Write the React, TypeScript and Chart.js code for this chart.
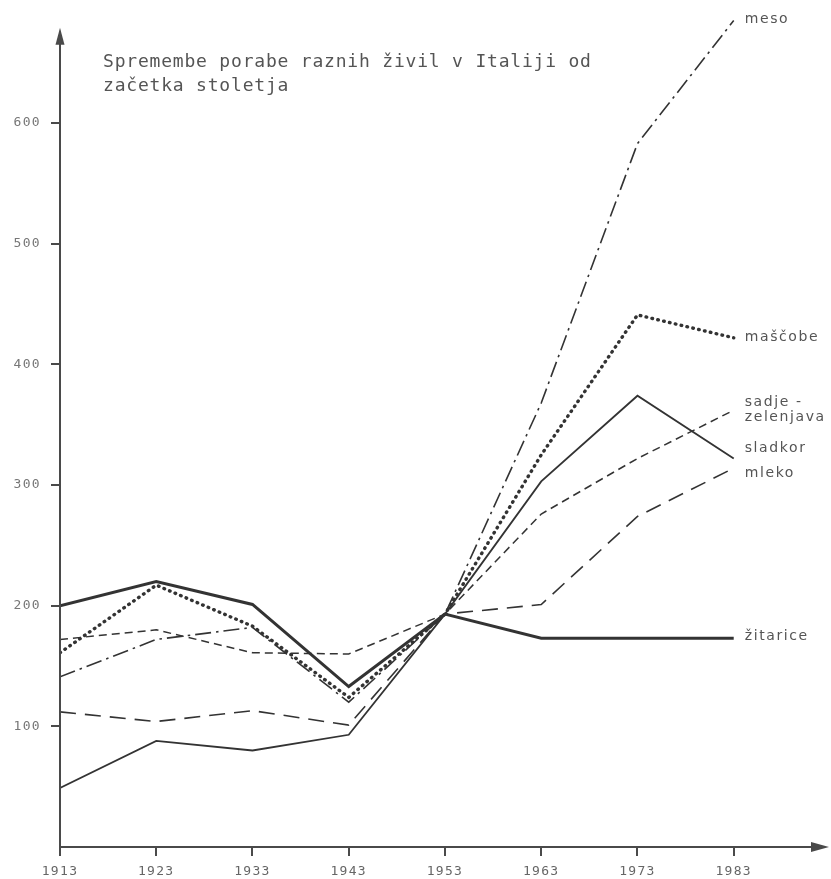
import React, { useEffect, useRef } from "react";
import { Chart, registerables } from "chart.js";

Chart.register(...registerables);

const years = [1913, 1923, 1933, 1943, 1953, 1963, 1973, 1983];
const yTickValues = [100, 200, 300, 400, 500, 600];

const zitarice = [200, 220, 201, 133, 193, 173, 173, 173];
const sladkor = [49, 88, 80, 93, 193, 303, 374, 322];
const mascobe = [161, 217, 183, 124, 193, 325, 441, 422];
const meso = [141, 172, 182, 120, 193, 368, 583, 685];
const sadje = [172, 180, 161, 160, 193, 276, 322, 362];
const mleko = [112, 104, 113, 101, 193, 201, 274, 314];

const seriesNames = ["žitarice", "sladkor", "maščobe", "meso", "sadje -\nzelenjava", "mleko"];
const seriesValues = [zitarice, sladkor, mascobe, meso, sadje, mleko];

const titleLines = ["Spremembe porabe raznih živil v Italiji od", "začetka stoletja"];

// styles (not data)
const lineStyles = [
  { width: 3, dash: [] as number[], cap: "butt" },
  { width: 1.8, dash: [] as number[], cap: "butt" },
  { width: 3.4, dash: [0.6, 5.4], cap: "round" },
  { width: 1.6, dash: [16, 5, 2.5, 5], cap: "butt" },
  { width: 1.5, dash: [8, 5], cap: "butt" },
  { width: 1.6, dash: [16, 9], cap: "butt" },
];
const labelDy = [-2, -10, 0, -1, -8, 5];
const LINE_COLOR = "#333";
const AXIS_COLOR = "#4a4a4a";
const TEXT_COLOR = "#555";
const FONT = "'DejaVu Sans Mono', monospace";
const LABEL_FONT = "'DejaVu Sans', sans-serif";

const decor = {
  id: "decor",
  beforeDraw(chart: any) {
    const ctx = chart.ctx;
    ctx.letterSpacing = "1.3px";
    ctx.fillStyle = "#fff";
    ctx.fillRect(0, 0, chart.width, chart.height);
  },
  afterDraw(chart: any) {
    const { ctx, chartArea } = chart;
    const xs = chart.scales.x;
    const ys = chart.scales.y;
    const x0 = xs.getPixelForValue(years[0]);
    const y0 = ys.getPixelForValue(0);
    const yTop = ys.getPixelForValue(679);
    const xRight = chartArea.right;
    ctx.save();
    ctx.strokeStyle = AXIS_COLOR;
    ctx.fillStyle = AXIS_COLOR;
    ctx.lineWidth = 2;
    ctx.setLineDash([]);
    // y axis
    ctx.beginPath();
    ctx.moveTo(x0, y0);
    ctx.lineTo(x0, yTop + 14);
    ctx.stroke();
    ctx.beginPath();
    ctx.moveTo(x0, yTop);
    ctx.lineTo(x0 - 4.5, yTop + 17);
    ctx.lineTo(x0 + 4.5, yTop + 17);
    ctx.closePath();
    ctx.fill();
    // x axis
    ctx.beginPath();
    ctx.moveTo(x0 - 1, y0);
    ctx.lineTo(xRight - 14, y0);
    ctx.stroke();
    ctx.beginPath();
    ctx.moveTo(xRight, y0);
    ctx.lineTo(xRight - 18, y0 - 5);
    ctx.lineTo(xRight - 18, y0 + 5);
    ctx.closePath();
    ctx.fill();

    // title
    ctx.fillStyle = TEXT_COLOR;
    ctx.font = `18px ${FONT}`;
    ctx.letterSpacing = "0.8px";
    ctx.textAlign = "left";
    ctx.textBaseline = "middle";
    titleLines.forEach((t, i) => ctx.fillText(t, 103, 62 + i * 24));

    // series labels
    ctx.font = `14px ${LABEL_FONT}`;
    ctx.letterSpacing = "1.6px";
    seriesNames.forEach((name, i) => {
      const vals = seriesValues[i];
      const px = xs.getPixelForValue(years[years.length - 1]) + 11;
      const py = ys.getPixelForValue(vals[vals.length - 1]) + labelDy[i];
      const parts = name.split("\n");
      parts.forEach((p, j) => ctx.fillText(p, px, py + j * 15));
    });
    ctx.restore();
  },
};

export default function App() {
  const ref = useRef<HTMLCanvasElement | null>(null);
  useEffect(() => {
    document.body.style.margin = "0";
    const canvas = ref.current!;
    const chart = new Chart(canvas, {
      type: "line",
      data: {
        datasets: seriesValues.map((vals, i) => ({
          label: seriesNames[i],
          data: years.map((yr, k) => ({ x: yr, y: vals[k] })),
          borderColor: LINE_COLOR,
          borderWidth: lineStyles[i].width,
          borderDash: lineStyles[i].dash,
          borderCapStyle: lineStyles[i].cap as any,
          borderJoinStyle: "miter" as any,
          pointRadius: 0,
          tension: 0,
          fill: false,
        })),
      },
      options: {
        responsive: false,
        animation: false,
        layout: { padding: { top: 0, right: 2, left: 0, bottom: 0 } },
        plugins: {
          legend: { display: false },
          tooltip: { enabled: false },
          title: { display: false },
        },
        scales: {
          x: {
            type: "linear",
            min: 1913,
            max: 1992.9,
            afterBuildTicks: (s: any) => {
              s.ticks = years.map((v) => ({ value: v }));
            },
            afterFit: (s: any) => {
              s.height = 32;
              s.paddingLeft = 0;
              s.paddingRight = 0;
            },
            grid: {
              drawOnChartArea: false,
              drawTicks: true,
              tickLength: 9,
              color: AXIS_COLOR,
              lineWidth: 2,
            },
            border: { display: false },
            ticks: {
              font: { family: FONT, size: 13 },
              color: "#666",
              padding: 8,
              maxRotation: 0,
              autoSkip: false,
              callback: (v: any) => String(v),
            },
          },
          y: {
            type: "linear",
            min: 0,
            max: 702,
            afterBuildTicks: (s: any) => {
              s.ticks = yTickValues.map((v) => ({ value: v }));
            },
            afterFit: (s: any) => {
              s.width = 60;
              s.paddingTop = 0;
              s.paddingBottom = 0;
            },
            grid: {
              drawOnChartArea: false,
              drawTicks: true,
              tickLength: 9,
              color: AXIS_COLOR,
              lineWidth: 2,
            },
            border: { display: false },
            ticks: {
              font: { family: FONT, size: 13 },
              color: "#777",
              padding: 10,
              callback: (v: any) => String(v),
            },
          },
        },
      },
      plugins: [decor],
    });
    return () => chart.destroy();
  }, []);
  return (
    <div style={{ width: 831, height: 879 }}>
      <canvas ref={ref} width={831} height={879} style={{ display: "block" }} />
    </div>
  );
}
